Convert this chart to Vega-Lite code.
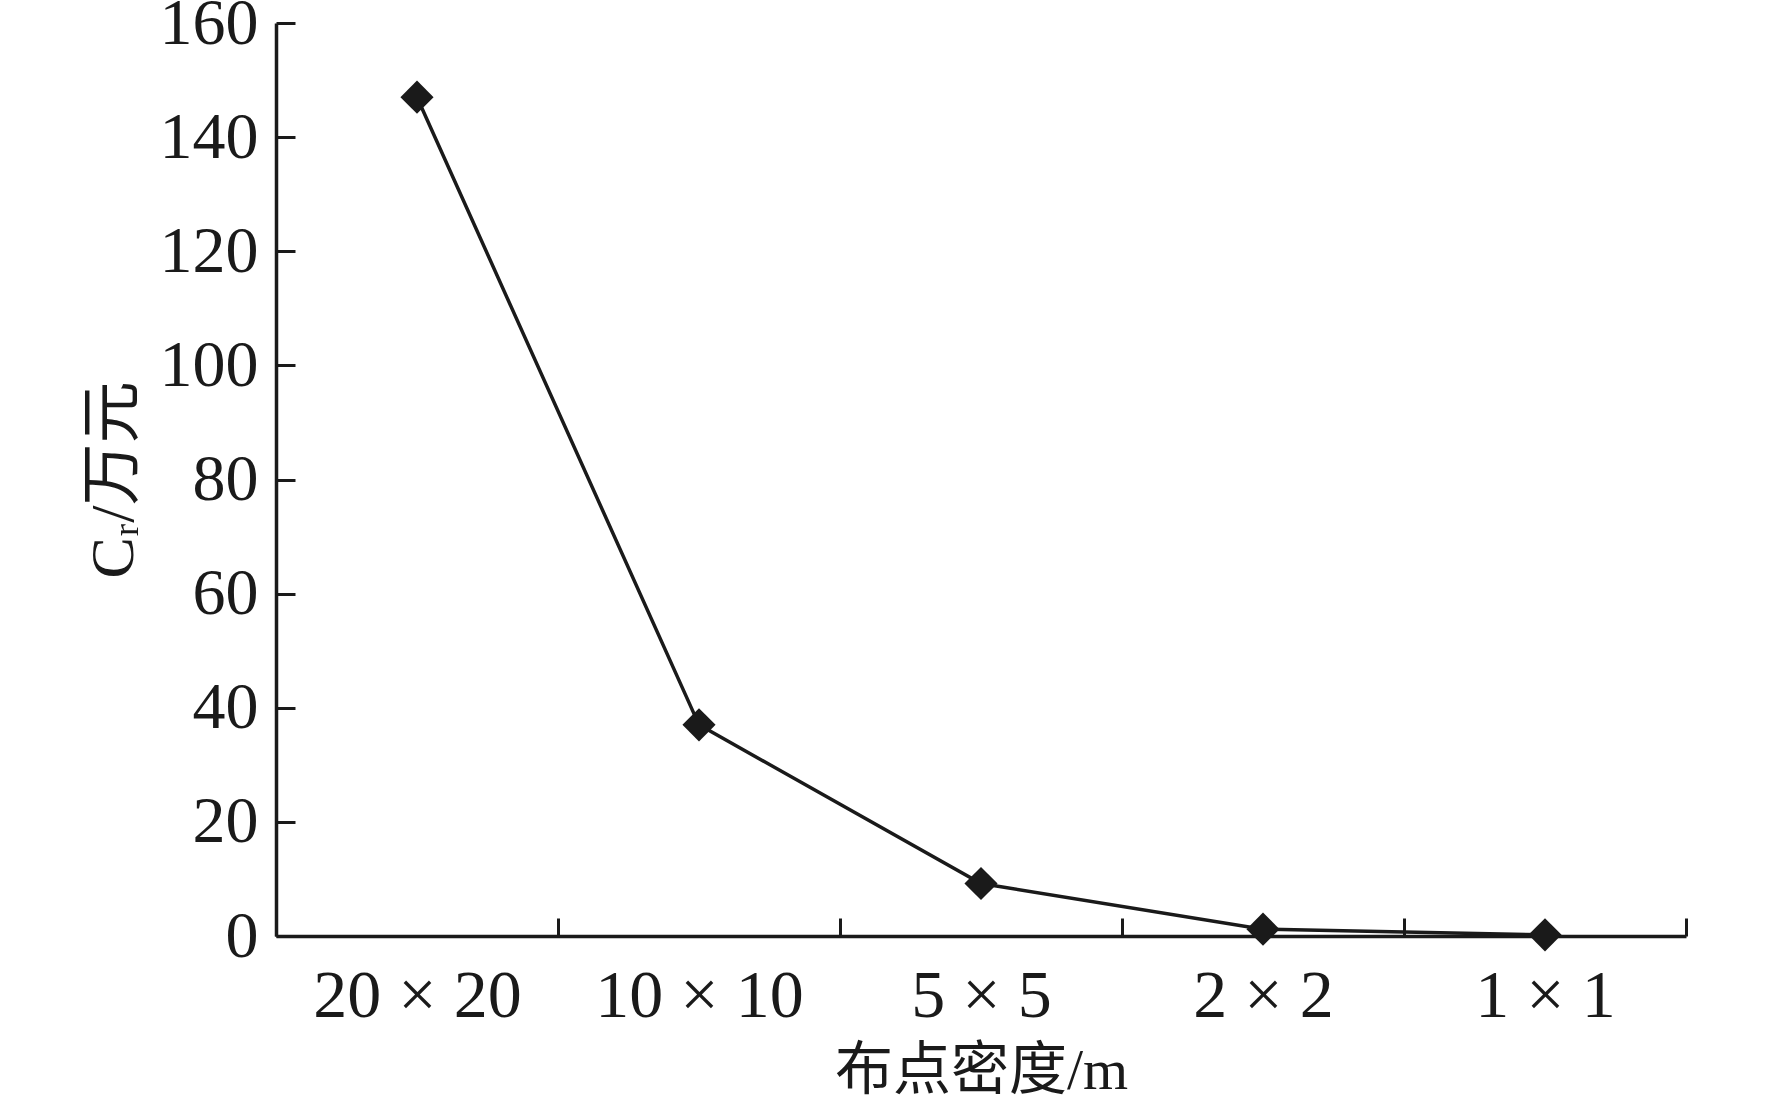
{
  "$schema": "https://vega.github.io/schema/vega-lite/v6.json",
  "autosize": {"type": "none"},
  "width": 1410,
  "height": 913,
  "padding": {"left": 276, "top": 23, "right": 86, "bottom": 163},
  "background": "white",
  "config": {"view": {"stroke": null}},
  "data": {"values": [
    {"density": "20 × 20", "cost": 147},
    {"density": "10 × 10", "cost": 37},
    {"density": "5 × 5", "cost": 9.2},
    {"density": "2 × 2", "cost": 1.2},
    {"density": "1 × 1", "cost": 0.2}
  ]},
  "encoding": {
    "x": {"field": "density", "type": "nominal", "sort": null,
      "scale": {"paddingInner": 0, "paddingOuter": 0},
      "axis": {"title": "布点密度/m", "labelAngle": 0, "tickBand": "extent", "labelLimit": 0,
        "domainColor": "#1a1a1a", "domainWidth": 3.5, "tickColor": "#1a1a1a", "tickWidth": 3, "tickSize": -18,
        "labelPadding": 44, "labelFont": "Liberation Serif", "labelFontSize": 68, "labelColor": "#1a1a1a",
        "titleFont": "Liberation Serif, Noto Sans CJK SC", "titleFontSize": 58, "titleFontWeight": "normal", "titleColor": "#1a1a1a", "titlePadding": 12}},
    "y": {"field": "cost", "type": "quantitative",
      "scale": {"domain": [0, 160], "nice": false},
      "axis": {"title": "Cᵣ/万元", "values": [0, 20, 40, 60, 80, 100, 120, 140, 160], "grid": false, "labelLimit": 0,
        "domainColor": "#1a1a1a", "domainWidth": 3.5, "tickColor": "#1a1a1a", "tickWidth": 3, "tickSize": -19,
        "labelPadding": 37, "labelFont": "Liberation Serif", "labelFontSize": 66, "labelColor": "#1a1a1a",
        "titleFont": "Liberation Serif, Noto Sans CJK SC", "titleFontSize": 62, "titleFontWeight": "normal", "titleColor": "#1a1a1a", "titlePadding": 14}},
    "tooltip": [{"field": "density", "type": "nominal"}, {"field": "cost", "type": "quantitative"}]
  },
  "layer": [
    {"mark": {"type": "line", "color": "#1a1a1a", "strokeWidth": 3.5}},
    {"mark": {"type": "point", "shape": "diamond", "filled": true, "size": 1100, "color": "#1a1a1a", "opacity": 1}}
  ]
}
